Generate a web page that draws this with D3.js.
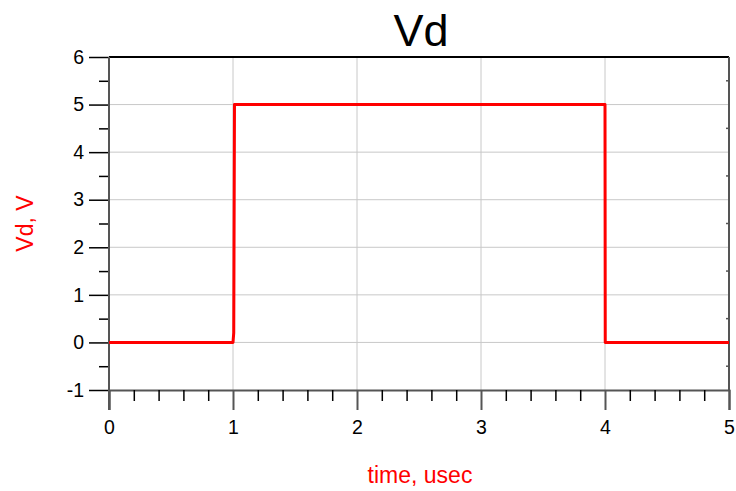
<!DOCTYPE html>
<html>
<head>
<meta charset="utf-8">
<script src="https://cdn.jsdelivr.net/npm/d3@7"></script>
<style>
  html, body { margin: 0; padding: 0; background: #fff; }
  svg { display: block; font-family: Arial, "Liberation Sans", sans-serif; }
</style>
</head>
<body>
<svg id="chart" width="736" height="491"></svg>
<script>
// Pulse waveform Vd over time (usec)
const timeUs = [0, 1.0, 1.006, 1.012, 4.0, 4.002, 5];
const vdVolts = [0, 0, 0.2, 5, 5, 0, 0];

const xTicks = [0, 1, 2, 3, 4, 5];
const yTicks = [-1, 0, 1, 2, 3, 4, 5, 6];
const xMinorTicks = d3.range(0, 5.0001, 0.2);
const yMinorTicks = d3.range(-1, 6.0001, 0.5);

const svg = d3.select("#chart");
const margin = { left: 109, right: 7, top: 57, bottom: 101 };
const W = 736, H = 491;
const x = d3.scaleLinear().domain([0, 5]).range([margin.left, W - margin.right]);
const y = d3.scaleLinear().domain([-1, 6]).range([H - margin.bottom, margin.top]);

const gridColor = "#c8c8c8";
const axisColor = "#555";
const fmt = d => String(d);
const isMinor = d => Math.abs(d - Math.round(d)) > 1e-6;

// grid lines
svg.append("g").selectAll("line").data(xTicks.slice(1, -1)).join("line")
  .attr("x1", d => x(d)).attr("x2", d => x(d))
  .attr("y1", y(-1)).attr("y2", y(6))
  .attr("stroke", gridColor).attr("stroke-width", 1);
svg.append("g").selectAll("line").data(yTicks.slice(1, -1)).join("line")
  .attr("x1", x(0)).attr("x2", x(5))
  .attr("y1", d => y(d)).attr("y2", d => y(d))
  .attr("stroke", gridColor).attr("stroke-width", 1);

// frame: top black, right dark gray
svg.append("line").attr("x1", x(0)).attr("x2", x(5)).attr("y1", y(6)).attr("y2", y(6))
  .attr("stroke", "#000").attr("stroke-width", 2);
svg.append("line").attr("x1", x(5)).attr("x2", x(5)).attr("y1", y(6)).attr("y2", y(-1))
  .attr("stroke", axisColor).attr("stroke-width", 2);

// bottom axis
const xAxis = d3.axisBottom(x).tickValues(xTicks).tickSize(20).tickPadding(10).tickFormat(fmt);
const gx = svg.append("g").attr("transform", `translate(0,${y(-1)})`).call(xAxis);
gx.select(".domain").attr("stroke", axisColor).attr("stroke-width", 2);
gx.selectAll(".tick line").attr("stroke", axisColor).attr("stroke-width", 2);
gx.selectAll(".tick text").attr("font-size", 19.5).attr("fill", "#000")
  .attr("font-family", "Arial, 'Liberation Sans', sans-serif");
const gxm = svg.append("g").attr("transform", `translate(0,${y(-1)})`)
  .call(d3.axisBottom(x).tickValues(xMinorTicks.filter(isMinor)).tickSize(11).tickFormat(""));
gxm.select(".domain").remove();
gxm.selectAll(".tick line").attr("stroke", "#000").attr("stroke-width", 1.5);

// left axis
const yAxis = d3.axisLeft(y).tickValues(yTicks).tickSize(20).tickPadding(5).tickFormat(fmt);
const gy = svg.append("g").attr("transform", `translate(${x(0)},0)`).call(yAxis);
gy.select(".domain").remove();
gy.selectAll(".tick line").attr("stroke", "#000").attr("stroke-width", 1.5);
gy.selectAll(".tick text").attr("font-size", 19.5).attr("fill", "#000")
  .attr("font-family", "Arial, 'Liberation Sans', sans-serif");
const gym = svg.append("g").attr("transform", `translate(${x(0)},0)`)
  .call(d3.axisLeft(y).tickValues(yMinorTicks.filter(isMinor)).tickSize(10).tickFormat(""));
gym.select(".domain").remove();
gym.selectAll(".tick line").attr("stroke", "#000").attr("stroke-width", 1.5);
// left axis spine extends down past the x axis
svg.append("line").attr("x1", x(0)).attr("x2", x(0)).attr("y1", y(6)).attr("y2", y(-1) + 20)
  .attr("stroke", axisColor).attr("stroke-width", 2);

// small inward minor ticks on the right frame
svg.append("g").selectAll("line").data(yMinorTicks.filter(isMinor)).join("line")
  .attr("x1", x(5) - 3).attr("x2", x(5))
  .attr("y1", d => y(d)).attr("y2", d => y(d))
  .attr("stroke", axisColor).attr("stroke-width", 1.5);

// waveform
const line = d3.line().x((d, i) => x(timeUs[i])).y(d => y(d));
svg.append("path").datum(vdVolts).attr("d", line)
  .attr("fill", "none").attr("stroke", "#ff0000").attr("stroke-width", 3)
  .attr("stroke-linejoin", "round");

// titles
svg.append("text").attr("x", 421).attr("y", 46).attr("text-anchor", "middle")
  .attr("font-size", 45).attr("fill", "#000").text("Vd");
svg.append("text").attr("x", 420).attr("y", 483).attr("text-anchor", "middle")
  .attr("font-size", 23).attr("fill", "#ff0000").text("time, usec");
svg.append("text").attr("transform", `translate(33,${y(2.5)}) rotate(-90)`)
  .attr("text-anchor", "middle").attr("font-size", 23).attr("fill", "#ff0000").text("Vd, V");
</script>
</body>
</html>
